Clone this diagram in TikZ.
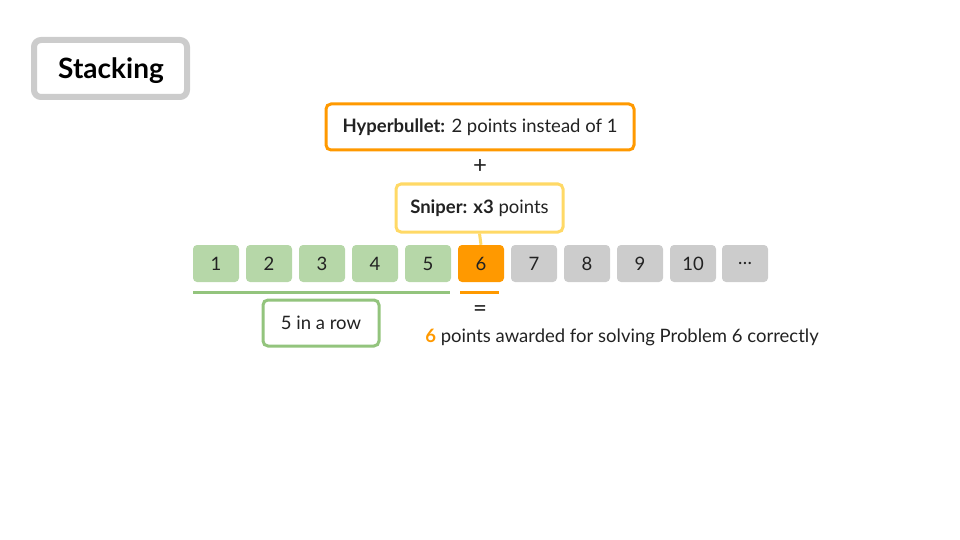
\documentclass[tikz,border=0pt]{standalone}
\usepackage{fontspec}
\setmainfont{Lato}
\definecolor{grayc}{HTML}{CCCCCC}
\definecolor{orangec}{HTML}{FF9900}
\definecolor{yellowc}{HTML}{FFD966}
\definecolor{greenf}{HTML}{B6D7A8}
\definecolor{greenl}{HTML}{93C47D}
\definecolor{txt}{HTML}{222222}
\begin{document}
\begin{tikzpicture}[x=1pt,y=-1pt,
  every node/.style={font=\fontsize{18.5}{22}\selectfont, text=txt, inner sep=0pt},
  framebox/.style={draw, line width=3pt, rounded corners=5pt, fill=white},
  cell/.style={rounded corners=4pt, minimum width=46pt, minimum height=37pt},
  cellg/.style={cell, fill=greenf},
  cello/.style={cell, fill=orangec},
  cellr/.style={cell, fill=grayc},
  uline/.style={line width=3pt}]
\useasboundingbox (0,0) rectangle (960,540);
% title
\node[framebox, draw=grayc, line width=6pt, rounded corners=7pt, minimum width=153pt, minimum height=57pt,
  font=\fontsize{28}{32}\selectfont\bfseries, text=black] (title) at (110.5,68.5) {};
\node[font=\fontsize{28}{32}\selectfont\bfseries, text=black, anchor=base] (titletext) at (111,79) {Stacking};
% hyperbullet
\node[framebox, draw=orangec, minimum width=308pt, minimum height=46pt] (hyper) at (480,127) {\raisebox{-1pt}{\textbf{Hyperbullet:} 2 points instead of 1}};
\node[font=\fontsize{24}{26}\selectfont] (plus) at (480,167) {+};
\node[framebox, draw=yellowc, minimum width=167pt, minimum height=48pt] (sniper) at (479.5,208) {\raisebox{-1pt}{\textbf{Sniper: x3} points}};
% cells
\foreach \i/\s in {1/cellg,2/cellg,3/cellg,4/cellg,5/cellg,6/cello,7/cellr,8/cellr,9/cellr,10/cellr} {
  \node[\s] (c\i) at ({216+53*(\i-1)},263.5) {\i};
}
\node[cellr] (c11) at (745,263.5) {\ldots};
\draw[yellowc, line width=3pt] (sniper.south) -- (c6.north);
% underlines
\coordinate (g1) at (193,292);
\coordinate (g2) at (450,292);
\coordinate (o1) at (460,292);
\coordinate (o2) at (499,292);
\draw[uline, greenl] (g1) -- (g2);
\draw[uline, orangec] (o1) -- (o2);
\node[framebox, draw=greenl, minimum width=116pt, minimum height=46pt] (row) at (321,323) {5 in a row};
\node[font=\fontsize{24}{26}\selectfont] (eq) at (480,311) {=};
\node (award) at (622,337) {\textbf{\color{orangec}6} points awarded for solving Problem 6 correctly};
\end{tikzpicture}
\end{document}
